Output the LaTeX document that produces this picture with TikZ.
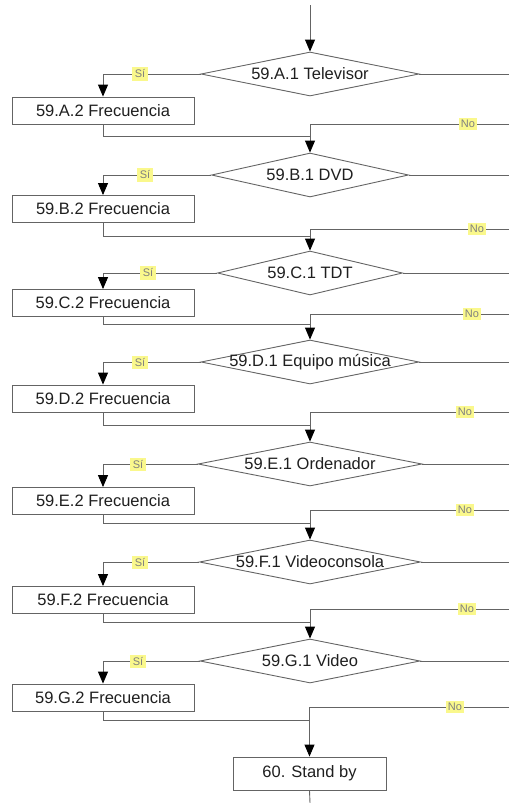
\documentclass[tikz,border=0pt]{standalone}
\usepackage{fontspec}
\setmainfont{Liberation Sans}
\usetikzlibrary{shapes.geometric,arrows.meta}
\definecolor{tagyellow}{RGB}{250,248,140}
\definecolor{linegray}{RGB}{100,100,100}
\begin{document}
\begin{tikzpicture}[x=1pt,y=-1pt,
  flow/.style={draw=linegray, line width=0.9pt},
  arr/.style={flow, -{Triangle[length=12pt,width=10pt,color=black]}},
  dec/.style={diamond, draw=linegray, line width=0.9pt, minimum height=44pt,
    inner sep=0pt, label={[labtext]center:#1}},
  labtext/.style={text=black!88, font=\fontsize{16.5}{19}\selectfont},
  proc/.style={rectangle, draw=linegray, line width=0.9pt, minimum width=182pt,
    minimum height=27pt, inner sep=0pt, text=black!88,
    font=\fontsize{16.5}{19}\selectfont},
  tag/.style={fill=tagyellow, text=black!50, inner sep=2.4pt,
    font=\fontsize{11}{13}\selectfont}]
\useasboundingbox (0,0) rectangle (509,803);

% decisions
\node[dec={59.A.1 Televisor}, minimum width=218pt] (dA) at (310,74) {};
\node[dec={59.B.1 DVD}, minimum width=197pt] (dB) at (310,175) {};
\node[dec={59.C.1 TDT}, minimum width=185pt] (dC) at (310,273) {};
\node[dec={59.D.1 Equipo música}, minimum width=218pt] (dD) at (310,362) {};
\node[dec={59.E.1 Ordenador}, minimum width=224pt] (dE) at (310,464) {};
\node[dec={59.F.1 Videoconsola}, minimum width=221pt] (dF) at (310,562) {};
\node[dec={59.G.1 Video}, minimum width=220pt] (dG) at (310,661) {};

% frequency boxes
\node[proc] (bA) at (103,110.5) {59.A.2 Frecuencia};
\node[proc] (bB) at (103,209) {59.B.2 Frecuencia};
\node[proc] (bC) at (103,303) {59.C.2 Frecuencia};
\node[proc] (bD) at (103,398.5) {59.D.2 Frecuencia};
\node[proc] (bE) at (103,501) {59.E.2 Frecuencia};
\node[proc] (bF) at (103,600) {59.F.2 Frecuencia};
\node[proc] (bG) at (103,697.5) {59.G.2 Frecuencia};

\node[proc, minimum width=153pt, minimum height=33pt] (sb) at (309.5,773.5) {60. Stand by};

% entry and exit
\coordinate (top) at (310,5);
\coordinate (bot) at (310,803);
\draw[arr] (top) -- (dA.north);
\draw[flow] (sb.south) -- (bot);

% "No" branches leave at the right edge and come back one row lower
\foreach \d/\y in {A/74,B/175,C/273,D/362,E/464,F/562,G/661}
  \coordinate (out\d) at (509,\y);
\foreach \d/\y in {A/124,B/229,C/314,D/412,E/510,F/609,G/707}
  \coordinate (in\d) at (509,\y);
% merge points of the "Sí" returns
\foreach \d/\y in {A/136,B/236,C/324,D/425,E/523,F/622,G/720}
  \coordinate (m\d) at (310,\y);

\foreach \d in {A,B,C,D,E,F,G}{
  \draw[arr] (d\d.west) -| (b\d.north);
  \draw[flow] (d\d.east) -- (out\d);
  \draw[flow] (b\d.south) |- (m\d);
}
\draw[arr] (inA) -| (dB.north);
\draw[arr] (inB) -| (dC.north);
\draw[arr] (inC) -| (dD.north);
\draw[arr] (inD) -| (dE.north);
\draw[arr] (inE) -| (dF.north);
\draw[arr] (inF) -| (dG.north);
\draw[arr] (inG) -| (sb.north);

% branch tags
\foreach \x/\y in {140/74,145/175,148/273,140/362,138/464,140/562,138/661}
  \node[tag] at (\x,\y) {Sí};
\foreach \x/\y in {468/124,477/229,472/314,465/412,465/510,467/609,455/707}
  \node[tag] at (\x,\y) {No};
\end{tikzpicture}
\end{document}
